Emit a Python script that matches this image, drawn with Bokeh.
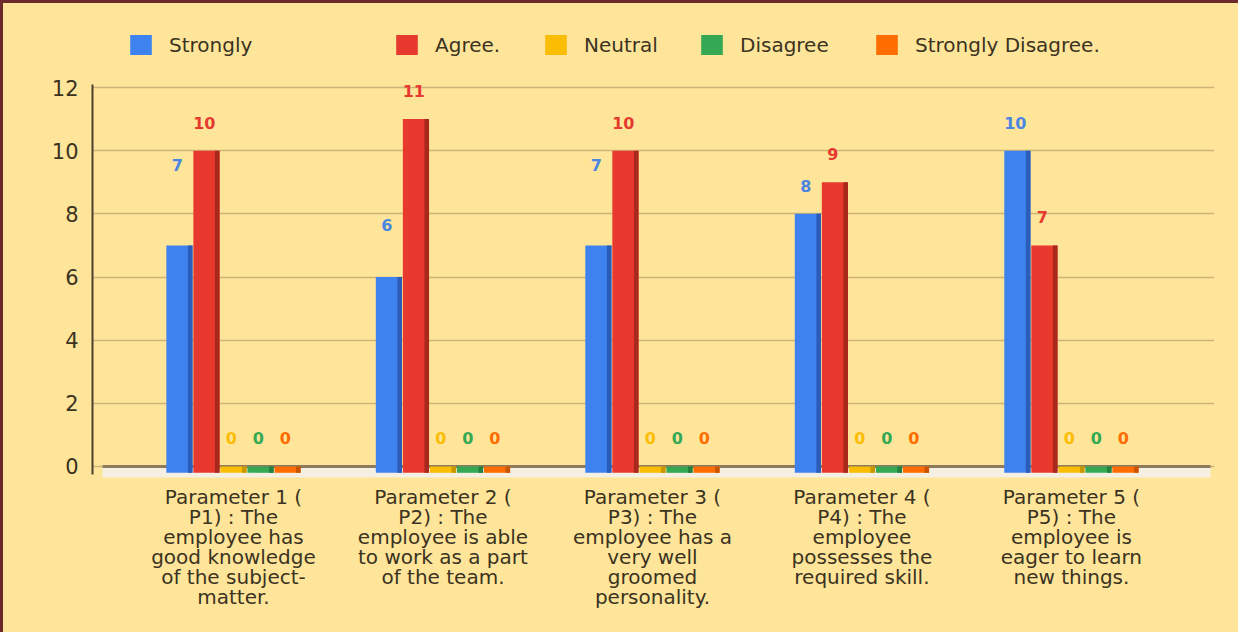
from bokeh.plotting import figure
from bokeh.models import Range1d, FixedTicker, Legend, LegendItem, BoxAnnotation
from bokeh.core.properties import value
from bokeh.embed import file_html
from bokeh.resources import INLINE

# ---------------- data ----------------
categories = [
    "Parameter 1 (\nP1) : The\nemployee has\ngood knowledge\nof the subject-\nmatter.",
    "Parameter 2 (\nP2) : The\nemployee is able\nto work as a part\nof the team.",
    "Parameter 3 (\nP3) : The\nemployee has a\nvery well\ngroomed\npersonality.",
    "Parameter 4 (\nP4) : The\nemployee\npossesses the\nrequired skill.",
    "Parameter 5 (\nP5) : The\nemployee is\neager to learn\nnew things.",
]
series_names = ["Strongly", "Agree.", "Neutral", "Disagree", "Strongly Disagree."]
strongly = [7, 6, 7, 8, 10]
agree = [10, 11, 10, 9, 7]
neutral = [0, 0, 0, 0, 0]
disagree = [0, 0, 0, 0, 0]
strongly_disagree = [0, 0, 0, 0, 0]
y_ticks = [0, 2, 4, 6, 8, 10, 12]

# ---------------- style ----------------
series_values = [strongly, agree, neutral, disagree, strongly_disagree]
colors = ["#3D82EE", "#E8392E", "#FBBC04", "#34A853", "#FF6D01"]
side_colors = ["#2B5DB8", "#A8281C", "#C99600", "#23803E", "#C85400"]
label_colors = ["#4A86E0", "#E53A2E", "#FBBC04", "#34A853", "#FF6D01"]
# extra lift (in data units) the original chart gave some labels
label_lift = [[1.67, 0.77, 1.67, 0, 0], [0] * 5, [0] * 5, [0] * 5, [0] * 5]

BG = "#FFE599"
FONT = "DejaVu Sans"
TXT = "#3b3322"
step = 0.129
bar_w = 0.125
side_w = 0.022
bar_floor = -0.2

p = figure(
    width=1238, height=632,
    x_range=Range1d(-0.673, 4.683), y_range=Range1d(-5.352, 14.376),
    output_backend="svg", toolbar_location=None,
    min_border_left=89, min_border_right=27, min_border_top=9, min_border_bottom=0,
    background_fill_color=BG, border_fill_color=BG,
)
p.outline_line_color = None
p.styles = {"border-top": "3px solid #6E2A2A", "border-left": "3px solid #6E2A2A",
            "background-color": BG}

# grid
p.xgrid.grid_line_color = None
p.ygrid.ticker = FixedTicker(ticks=y_ticks)
p.ygrid.grid_line_color = "#CDB57A"
p.ygrid.grid_line_width = 1.5
p.ygrid.bounds = (-0.625, 4.664)

# floor band and baseline
p.add_layout(BoxAnnotation(left=-0.625, right=4.664, top=0, bottom=-0.35,
                           fill_color="#F5F0E2", fill_alpha=1, line_color=None, level="underlay"))
p.segment(x0=[-0.625], y0=[0], x1=[4.664], y1=[0], line_color="#8C7B5C", line_width=3)

# y axis
p.yaxis.ticker = FixedTicker(ticks=y_ticks)
p.yaxis.bounds = (-0.25, 12.1)
p.yaxis.axis_line_color = "#4A3F30"
p.yaxis.axis_line_width = 2
p.yaxis.major_tick_line_color = None
p.yaxis.minor_tick_line_color = None
p.yaxis.major_label_standoff = 8
p.yaxis.major_label_text_font = FONT
p.yaxis.major_label_text_font_size = "21px"
p.yaxis.major_label_text_color = TXT

# x axis hidden: category labels are drawn as multi-line text under each group
p.xaxis.visible = False
p.text(x=list(range(len(categories))), y=[-0.6] * len(categories), text=categories,
       text_font=value(FONT), text_font_size="20px", text_color=TXT,
       text_align="center", text_baseline="top", text_line_height=0.83)

renderers = []
n = len(series_values)
for s, vals in enumerate(series_values):
    xs = [i + (s - (n - 1) / 2) * step for i in range(len(vals))]
    r = p.vbar(x=xs, top=vals, bottom=bar_floor, width=bar_w,
               fill_color=colors[s], line_color=None)
    renderers.append(r)
    p.vbar(x=[x + bar_w / 2 - side_w / 2 for x in xs], top=vals, bottom=bar_floor,
           width=side_w, fill_color=side_colors[s], line_color=None)
    ly = [v + 0.887 + label_lift[s][i] for i, v in enumerate(vals)]
    p.text(x=[x - 0.01 for x in xs], y=ly, text=[str(v) for v in vals],
           text_color=label_colors[s], text_font=value(FONT), text_font_style="bold",
           text_font_size="16px", text_align="center", text_baseline="middle")

# legend: one box per entry, placed like the original
legend_x = [35, 301, 450, 606, 781]
for s, name in enumerate(series_names):
    lg = Legend(items=[LegendItem(label=name, renderers=[renderers[s]])],
                location=(legend_x[s], 578), orientation="horizontal",
                padding=0, margin=0, spacing=0, label_standoff=15,
                glyph_width=27, glyph_height=25,
                border_line_color=None, background_fill_alpha=0,
                label_text_font=FONT, label_text_font_size="20px",
                label_text_color=TXT)
    p.add_layout(lg, "center")

open("out.html", "w").write(file_html(p, INLINE))
